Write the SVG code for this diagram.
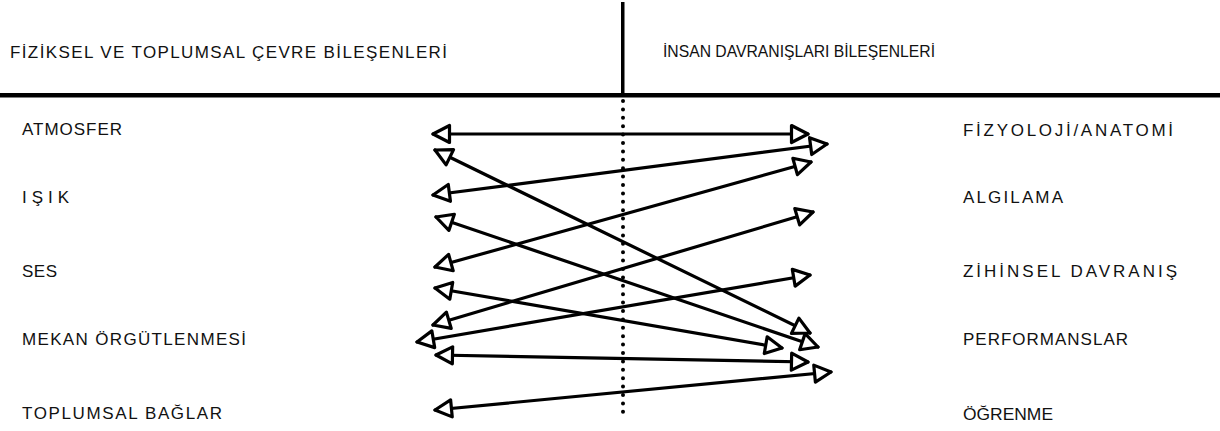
<svg xmlns="http://www.w3.org/2000/svg" width="1220" height="431" viewBox="0 0 1220 431">
<style>
text{font-family:"Liberation Sans","DejaVu Sans",sans-serif;font-size:17px;fill:#111}
.c{stroke:#000;stroke-width:3.2;fill:none;stroke-linecap:round;marker-start:url(#ah);marker-end:url(#ah)}
</style>
<defs>
<marker id="ah" viewBox="0 0 22 22" markerWidth="22" markerHeight="22" refX="19" refY="11" markerUnits="userSpaceOnUse" orient="auto-start-reverse" overflow="visible">
<polygon points="2.5,2.5 19,11 2.5,19.5" fill="#fff" stroke="#000" stroke-width="3.2" stroke-linejoin="round"/>
</marker>
</defs>
<rect width="1220" height="431" fill="#fff"/>
<g id="frame">
<rect x="0" y="93" width="1220" height="4.5" fill="#000"/>
<rect x="621" y="2" width="3.5" height="93" fill="#000"/>
<line x1="623" y1="101" x2="623" y2="420" stroke="#000" stroke-width="4" stroke-linecap="round" stroke-dasharray="0 8.4"/>
</g>
<g id="header-left"><text x="10" y="58" textLength="437" lengthAdjust="spacing">FİZİKSEL VE TOPLUMSAL ÇEVRE BİLEŞENLERİ</text></g>
<g id="header-right"><text x="663" y="57" font-size="16" textLength="272" lengthAdjust="spacingAndGlyphs">İNSAN DAVRANIŞLARI BİLEŞENLERİ</text></g>
<g id="n-atmosfer"><text x="22" y="135" textLength="100" lengthAdjust="spacing">ATMOSFER</text></g>
<g id="n-isik"><text x="22" y="203" textLength="47" lengthAdjust="spacing">IŞIK</text></g>
<g id="n-ses"><text x="22" y="277" textLength="35" lengthAdjust="spacing">SES</text></g>
<g id="n-mekan"><text x="22" y="345" textLength="224" lengthAdjust="spacing">MEKAN ÖRGÜTLENMESİ</text></g>
<g id="n-toplumsal"><text x="22" y="419" textLength="200" lengthAdjust="spacing">TOPLUMSAL BAĞLAR</text></g>
<g id="n-fizyoloji"><text x="963" y="136" textLength="210" lengthAdjust="spacing">FİZYOLOJİ/ANATOMİ</text></g>
<g id="n-algilama"><text x="963" y="203" textLength="100" lengthAdjust="spacing">ALGILAMA</text></g>
<g id="n-zihinsel"><text x="963" y="277" textLength="214" lengthAdjust="spacing">ZİHİNSEL DAVRANIŞ</text></g>
<g id="n-performanslar"><text x="963" y="345" textLength="165" lengthAdjust="spacing">PERFORMANSLAR</text></g>
<g id="n-ogrenme"><text x="963" y="420" textLength="90" lengthAdjust="spacingAndGlyphs">ÖĞRENME</text></g>
<g id="connectors">
<line class="c" x1="433" y1="134" x2="808" y2="134"/>
<line class="c" x1="433" y1="195" x2="827" y2="144"/>
<line class="c" x1="435" y1="267" x2="811" y2="162"/>
<line class="c" x1="435" y1="150" x2="810" y2="333"/>
<line class="c" x1="433" y1="325" x2="813" y2="212"/>
<line class="c" x1="436" y1="217" x2="818" y2="347"/>
<line class="c" x1="435" y1="288" x2="782" y2="348"/>
<line class="c" x1="417" y1="342" x2="810" y2="275"/>
<line class="c" x1="436" y1="355" x2="808" y2="362"/>
<line class="c" x1="435" y1="410" x2="831" y2="372"/>
</g>
</svg>
